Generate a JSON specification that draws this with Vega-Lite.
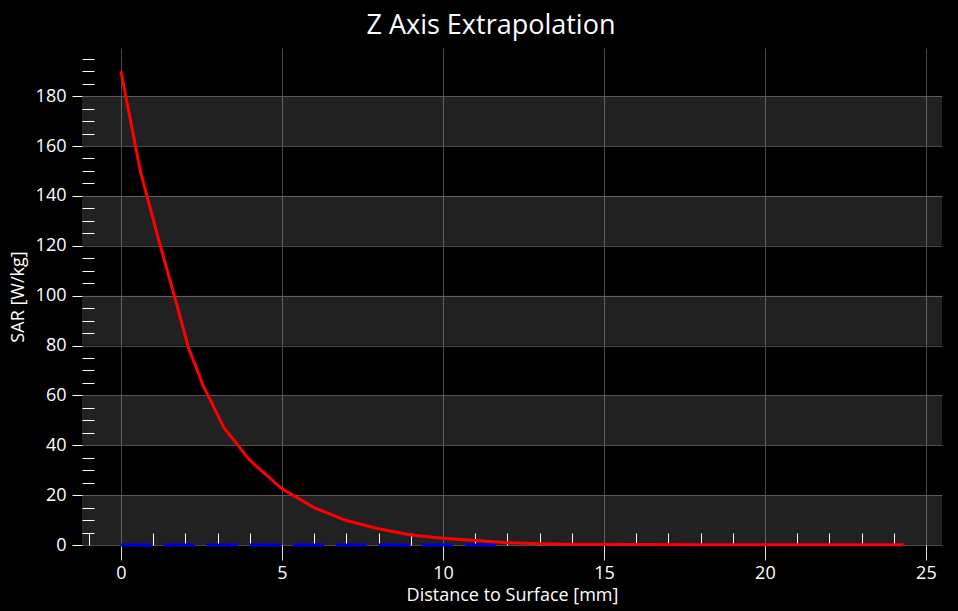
{
  "$schema": "https://vega.github.io/schema/vega-lite/v6.json",
  "width": 860,
  "height": 497,
  "autosize": {"type": "none"},
  "padding": {"left": 82, "top": 48, "right": 16, "bottom": 66},
  "background": "#000000",
  "title": {
    "text": "Z Axis Extrapolation",
    "color": "#ffffff",
    "font": "Open Sans",
    "fontSize": 27,
    "fontWeight": "normal",
    "anchor": "middle",
    "offset": 8,
    "dx": -21
  },
  "config": {
    "view": {"stroke": null},
    "axis": {
      "labelFont": "Open Sans",
      "titleFont": "Open Sans",
      "labelColor": "#ffffff",
      "titleColor": "#ffffff",
      "labelFontSize": 18,
      "titleFontSize": 18,
      "titleFontWeight": "normal",
      "domain": false
    }
  },
  "datasets": {
    "bands": [
      {"lo": 0, "hi": 20},
      {"lo": 40, "hi": 60},
      {"lo": 80, "hi": 100},
      {"lo": 120, "hi": 140},
      {"lo": 160, "hi": 180}
    ],
    "surface": [
      {"distance": 0, "sar": 0},
      {"distance": 12, "sar": 0}
    ],
    "extrapolation": [
      {"distance": 0, "sar": 190},
      {"distance": 0.6, "sar": 150},
      {"distance": 1.2, "sar": 121},
      {"distance": 1.7, "sar": 98},
      {"distance": 2.1, "sar": 79},
      {"distance": 2.55, "sar": 64},
      {"distance": 3.2, "sar": 47},
      {"distance": 4, "sar": 34},
      {"distance": 5, "sar": 22.5},
      {"distance": 6, "sar": 15},
      {"distance": 7, "sar": 9.8},
      {"distance": 8, "sar": 6.5},
      {"distance": 9, "sar": 4.0},
      {"distance": 10, "sar": 2.7},
      {"distance": 11, "sar": 1.8},
      {"distance": 12, "sar": 0.9},
      {"distance": 13, "sar": 0.5},
      {"distance": 14, "sar": 0.3},
      {"distance": 16, "sar": 0.2},
      {"distance": 18, "sar": 0.15},
      {"distance": 20, "sar": 0.1},
      {"distance": 22, "sar": 0.1},
      {"distance": 24.3, "sar": 0.1}
    ]
  },
  "resolve": {"axis": {"x": "independent", "y": "independent"}},
  "layer": [
    {
      "data": {"name": "bands"},
      "mark": {"type": "rect", "color": "#ffffff", "opacity": 0.13},
      "encoding": {
        "y": {
          "field": "lo",
          "type": "quantitative",
          "scale": {"domain": [0, 199.3], "nice": false},
          "axis": {
            "values": [0, 20, 40, 60, 80, 100, 120, 140, 160, 180],
            "title": "SAR [W/kg]",
            "tickSize": 10,
            "tickColor": "#ffffff",
            "labelPadding": 6,
            "titlePadding": 8,
            "grid": true,
            "gridColor": "#4a4a4a"
          }
        },
        "y2": {"field": "hi"}
      }
    },
    {
      "data": {"name": "surface"},
      "mark": {"type": "line", "color": "#0000e6", "strokeWidth": 3, "strokeDash": [31, 12]},
      "encoding": {
        "x": {
          "field": "distance",
          "type": "quantitative",
          "scale": {"domain": [-1.21, 25.5], "nice": false},
          "axis": {
            "orient": "bottom",
            "values": [-1, 1, 2, 3, 4, 6, 7, 8, 9, 11, 12, 13, 14, 16, 17, 18, 19, 21, 22, 23, 24],
            "tickSize": -12,
            "tickColor": "#ffffff",
            "labels": false,
            "title": null,
            "grid": false
          }
        },
        "y": {
          "field": "sar",
          "type": "quantitative",
          "scale": {"domain": [0, 199.3], "nice": false},
          "axis": {
            "orient": "left",
            "values": [5, 10, 15, 25, 30, 35, 45, 50, 55, 65, 70, 75, 85, 90, 95, 105, 110, 115, 125, 130, 135, 145, 150, 155, 165, 170, 175, 185, 190, 195],
            "tickSize": -12,
            "tickColor": "#ffffff",
            "labels": false,
            "title": null,
            "grid": false
          }
        }
      }
    },
    {
      "data": {"name": "extrapolation"},
      "mark": {"type": "line", "color": "#ff0000", "strokeWidth": 3},
      "encoding": {
        "x": {
          "field": "distance",
          "type": "quantitative",
          "scale": {"domain": [-1.21, 25.5], "nice": false},
          "axis": {
            "orient": "bottom",
            "values": [0, 5, 10, 15, 20, 25],
            "title": "Distance to Surface [mm]",
            "tickSize": 15,
            "tickColor": "#dddddd",
            "labelPadding": 4,
            "titlePadding": 4,
            "grid": true,
            "gridColor": "#4a4a4a"
          }
        },
        "y": {
          "field": "sar",
          "type": "quantitative",
          "scale": {"domain": [0, 199.3], "nice": false},
          "axis": null
        }
      }
    }
  ]
}
